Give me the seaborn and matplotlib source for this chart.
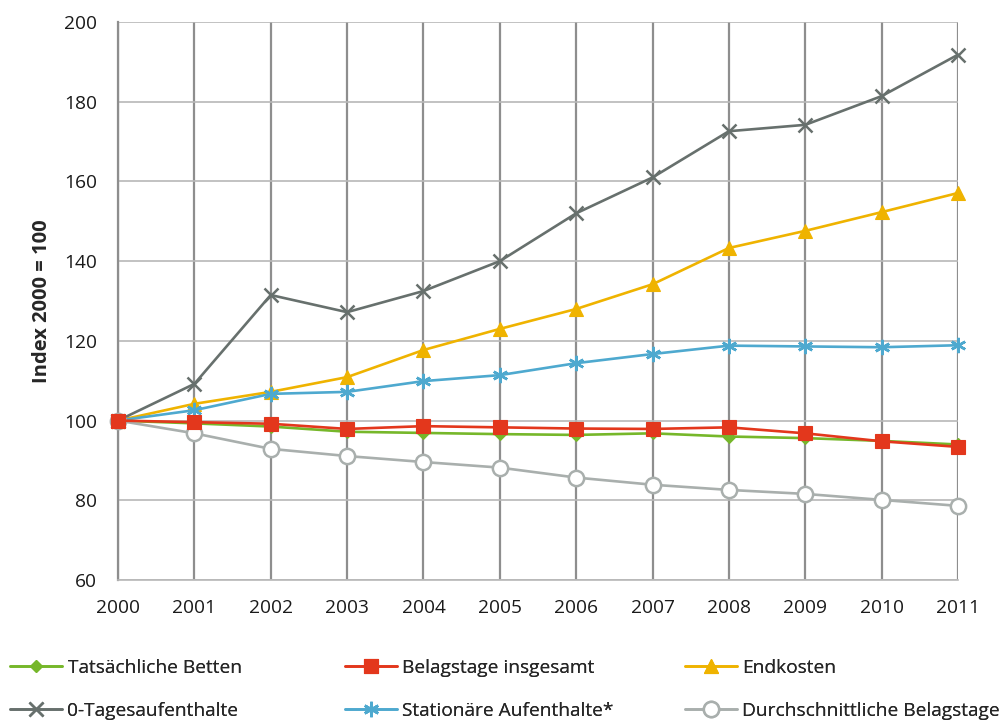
import matplotlib
matplotlib.use("Agg")
import matplotlib.pyplot as plt
import seaborn as sns
import pandas as pd

years = [2000, 2001, 2002, 2003, 2004, 2005, 2006, 2007, 2008, 2009, 2010, 2011]

betten = [100, 99.3, 98.5, 97.2, 96.9, 96.6, 96.4, 96.8, 96.0, 95.6, 94.9, 94.0]
belagstage = [100, 99.6, 99.2, 97.9, 98.6, 98.3, 98.0, 97.9, 98.3, 96.8, 94.8, 93.4]
endkosten = [100, 104.2, 107.2, 110.9, 117.7, 123.0, 128.0, 134.2, 143.3, 147.6, 152.3, 157.1]
null_tage = [100, 109.2, 131.5, 127.2, 132.5, 140.0, 152.0, 161.0, 172.6, 174.2, 181.4, 191.8]
stationaer = [100, 102.6, 106.7, 107.2, 109.9, 111.4, 114.4, 116.7, 118.8, 118.6, 118.4, 118.9]
verweildauer = [100, 96.8, 92.9, 91.1, 89.6, 88.2, 85.7, 83.9, 82.6, 81.6, 80.1, 78.6]

series_names = [
    "Tatsächliche Betten",
    "Belagstage insgesamt",
    "Endkosten",
    "0-Tagesaufenthalte",
    "Stationäre Aufenthalte*",
    "Durchschnittliche Belagstage",
]
series_values = [betten, belagstage, endkosten, null_tage, stationaer, verweildauer]

colors = ["#76b72a", "#e3371c", "#efb300", "#67706d", "#4ea9cf", "#a9afad"]
markers = ["D", "s", "^", "x", (6, 2, 0), "o"]
msizes = [6, 10, 10, 10, 11, 11]
mfaces = ["#76b72a", "#e3371c", "#efb300", "#67706d", "#4ea9cf", "white"]
zorders = [4, 5, 3, 3, 3, 4]

df = pd.DataFrame(
    [(y, name, v) for name, vals in zip(series_names, series_values) for y, v in zip(years, vals)],
    columns=["Jahr", "Reihe", "Index"],
)

sns.set_style("white")
plt.rcParams["font.family"] = ["Open Sans", "DejaVu Sans"]

fig = plt.figure(figsize=(10.08, 7.2), dpi=100)
ax = fig.add_axes([118 / 1008, 1 - 580 / 720, 840 / 1008, 558 / 720])

handles = []
for name, c, m, ms, mf, z in zip(series_names, colors, markers, msizes, mfaces, zorders):
    sub = df[df["Reihe"] == name]
    sns.lineplot(
        data=sub, x="Jahr", y="Index", ax=ax, color=c, linewidth=1.9,
        marker=m, markersize=ms, markerfacecolor=mf, markeredgecolor=c,
        markeredgewidth=1.8 if m in ("x", "o") or isinstance(m, tuple) else 0.8,
        zorder=z, legend=False, clip_on=False,
    )
    handles.append(ax.lines[-1])

ax.set_xlim(2000, 2011)
ax.set_ylim(60, 200)
ax.set_xticks(years)
ax.set_yticks(range(60, 201, 20))
ax.set_xlabel("")
ax.set_ylabel("Index 2000 = 100", fontsize=14.5, fontweight="bold", labelpad=9)

ax.grid(axis="x", color="#8e8e8e", linewidth=1.6, zorder=0)
ax.grid(axis="y", color="#b8b8b8", linewidth=1.2, zorder=0)
ax.set_axisbelow(True)
for s in ["top", "right"]:
    ax.spines[s].set_visible(False)
ax.spines["left"].set_color("#8e8e8e")
ax.spines["left"].set_linewidth(1.6)
ax.spines["bottom"].set_color("#b8b8b8")
ax.spines["bottom"].set_linewidth(1.2)
ax.tick_params(axis="both", length=0, labelsize=13.8, colors="#1a1a1a")
ax.tick_params(axis="x", pad=14)
ax.tick_params(axis="y", pad=15)

# legend: three columns of two entries, each column placed on its own
columns = [(0, 3), (1, 4), (2, 5)]
col_x = [10 / 1008, 345 / 1008, 685 / 1008]
for (i, j), x0 in zip(columns, col_x):
    leg = fig.legend(
        [handles[i], handles[j]], [series_names[i], series_names[j]],
        loc="lower left", bbox_to_anchor=(x0, 0.0), borderaxespad=0, borderpad=0,
        frameon=False, fontsize=13.8, handlelength=2.7, handletextpad=0.3,
        labelspacing=1.33,
    )
    fig.add_artist(leg)

fig.savefig("out.png", dpi=100)
